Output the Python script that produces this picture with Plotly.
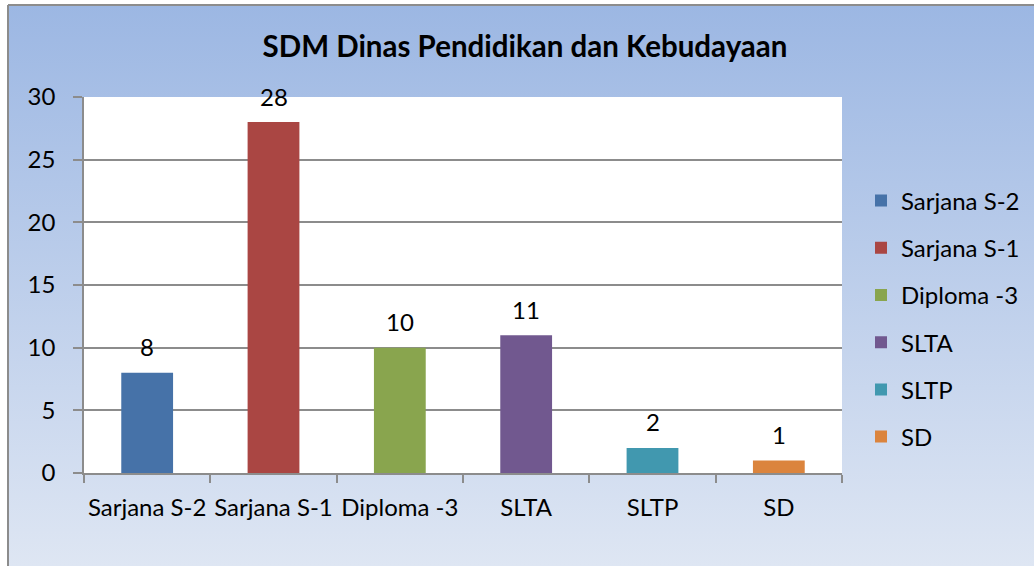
import base64
import plotly.graph_objects as go

categories = ["Sarjana S-2", "Sarjana S-1", "Diploma -3", "SLTA", "SLTP", "SD"]
values = [8, 28, 10, 11, 2, 1]
colors = ["#4672A8", "#AA4643", "#89A54E", "#71588F", "#4198AF", "#DB843D"]
title_text = "SDM Dinas Pendidikan dan Kebudayaan"
y_ticks = [0, 5, 10, 15, 20, 25, 30]

FONT = "Lato"
W, H = 1034, 566
L, R, T, B = 84, 842, 97, 473  # plot area in pixels


def px(x):
    return (x - L) / (R - L)


def py(y):
    return (B - y) / (B - T)


svg = (
    '<svg xmlns="http://www.w3.org/2000/svg" width="100" height="100" preserveAspectRatio="none">'
    '<defs><linearGradient id="g" x1="0" y1="0" x2="0" y2="1">'
    '<stop offset="0" stop-color="#9CB7E3"/>'
    '<stop offset="1" stop-color="#DEE6F3"/>'
    '</linearGradient></defs>'
    '<rect x="0" y="0" width="100" height="100" fill="url(#g)"/></svg>'
)
src = "data:image/svg+xml;base64," + base64.b64encode(svg.encode()).decode()

fig = go.Figure()
for cat, val, col in zip(categories, values, colors):
    fig.add_trace(go.Bar(
        x=[cat], y=[val], name=cat,
        marker=dict(color=col, line=dict(width=0)),
        width=0.41,
        cliponaxis=False,
        legendgroup=cat,
    ))

annotations = [
    dict(x=cat, y=val, xref="x", yref="y", text=str(val), showarrow=False,
         yanchor="middle", yshift=26, font=dict(family=FONT, size=24, color="#000000"))
    for cat, val in zip(categories, values)
]

fig.update_layout(
    width=W, height=H,
    barmode="overlay",
    paper_bgcolor="#FFFFFF",
    plot_bgcolor="#FFFFFF",
    margin=dict(l=L, r=W - R, t=T, b=H - B, autoexpand=False),
    title=dict(text="<b>" + title_text + "</b>", x=525 / W, xanchor="center",
               y=1 - 47 / H, yanchor="middle",
               font=dict(family=FONT, size=29.5, color="#000000")),
    font=dict(family=FONT, size=24, color="#000000"),
    showlegend=True,
    legend=dict(x=px(861), xanchor="left", y=py(319), yanchor="middle",
                bgcolor="rgba(0,0,0,0)", font=dict(family=FONT, size=24),
                traceorder="grouped", tracegroupgap=13, itemwidth=30),
    annotations=annotations,
    images=[dict(source=src, xref="paper", yref="paper",
                 x=px(8), y=py(5), sizex=px(W) - px(8), sizey=py(5) - py(H),
                 xanchor="left", yanchor="top", sizing="stretch", layer="below")],
    shapes=[
        dict(type="rect", xref="paper", yref="paper", x0=0, x1=1, y0=0, y1=1,
             fillcolor="#FFFFFF", line=dict(width=0), layer="below"),
        dict(type="line", xref="paper", yref="paper", x0=px(8), x1=px(8), y0=py(H), y1=py(5),
             line=dict(color="#8C8C8C", width=2), layer="above"),
        dict(type="line", xref="paper", yref="paper", x0=px(8), x1=px(W), y0=py(5), y1=py(5),
             line=dict(color="#8C8C8C", width=2), layer="above"),
    ],
)
fig.update_xaxes(
    type="category", categoryorder="array", categoryarray=categories,
    tickson="boundaries", ticks="outside", ticklen=8, tickcolor="#8C8C8C", tickwidth=1.5,
    showline=True, linecolor="#8C8C8C", linewidth=1.5, tickangle=0, automargin=False,
    showgrid=False, tickfont=dict(family=FONT, size=24, color="#000000"),
    ticklabelstandoff=12,
)
fig.update_yaxes(
    range=[0, 30], tickvals=y_ticks, ticks="outside", ticklen=9, tickcolor="#8C8C8C", tickwidth=1.5,
    showline=True, linecolor="#8C8C8C", linewidth=1.5, automargin=False,
    showgrid=True, gridcolor="#8C8C8C", gridwidth=1.5, zeroline=False,
    tickfont=dict(family=FONT, size=24, color="#000000"),
    ticklabelstandoff=13,
)
fig.write_html("out.html", post_script="document.body.style.margin='0';",
               config={"displayModeBar": False})
